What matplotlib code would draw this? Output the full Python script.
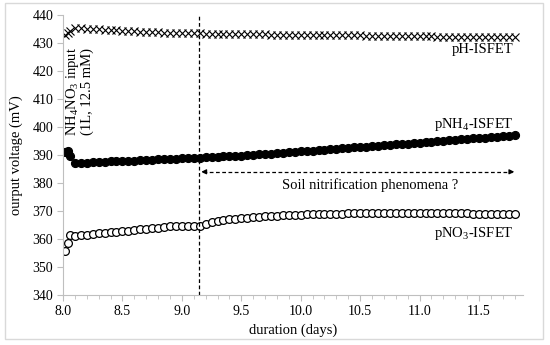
#!/usr/bin/env python3
import numpy as np
import matplotlib
matplotlib.use('Agg')
import matplotlib.pyplot as plt
from matplotlib.patches import Rectangle

plt.rcParams['font.family'] = ['Liberation Serif', 'DejaVu Serif']
plt.rcParams['mathtext.fontset'] = 'custom'
plt.rcParams['mathtext.rm'] = 'Liberation Serif'
plt.rcParams['mathtext.it'] = 'Liberation Serif:italic'

#-----------------------------------------------------------------------------------------
# sampling times (days)
days = [8.02, 8.04, 8.06,
        8.10, 8.15, 8.20, 8.25, 8.30, 8.35, 8.40, 8.45, 8.50, 8.55, 8.60,
        8.65, 8.70, 8.75, 8.80, 8.85, 8.90, 8.95, 9.00, 9.05, 9.10, 9.15,
        9.20, 9.25, 9.30, 9.35, 9.40, 9.45, 9.50, 9.55, 9.60, 9.65, 9.70,
        9.75, 9.80, 9.85, 9.90, 9.95, 10.00, 10.05, 10.10, 10.15, 10.20,
        10.25, 10.30, 10.35, 10.40, 10.45, 10.50, 10.55, 10.60, 10.65,
        10.70, 10.75, 10.80, 10.85, 10.90, 10.95, 11.00, 11.05, 11.10,
        11.15, 11.20, 11.25, 11.30, 11.35, 11.40, 11.45, 11.50, 11.55,
        11.60, 11.65, 11.70, 11.75, 11.80]

# pH-ISFET (mV)
ph_mv = [433.0, 433.5, 434.2,
         435.2, 435.3, 435.1, 435.0, 434.9, 434.8, 434.7, 434.6, 434.4, 434.3, 434.2,
         434.1, 434.0, 433.9, 433.8, 433.7, 433.6, 433.6, 433.5, 433.5, 433.4, 433.4,
         433.3, 433.3, 433.3, 433.2, 433.2, 433.2, 433.2, 433.1, 433.1, 433.1, 433.1,
         433.0, 433.0, 433.0, 433.0, 432.9, 432.9, 432.9, 432.9, 432.8, 432.8,
         432.8, 432.8, 432.7, 432.7, 432.7, 432.7, 432.6, 432.6, 432.6,
         432.6, 432.5, 432.5, 432.5, 432.5, 432.4, 432.4, 432.4, 432.4,
         432.3, 432.3, 432.3, 432.3, 432.2, 432.2, 432.2, 432.2, 432.1,
         432.1, 432.1, 432.0, 432.0, 432.0]

# pNH4-ISFET (mV)
nh4_mv = [391.0, 391.6, 389.8,
          387.3, 387.2, 387.3, 387.4, 387.5, 387.6, 387.7, 387.8, 387.8, 387.9, 388.0,
          388.1, 388.2, 388.3, 388.4, 388.5, 388.6, 388.7, 388.8, 388.9, 389.0, 389.1,
          389.2, 389.3, 389.4, 389.5, 389.6, 389.7, 389.8, 390.0, 390.1, 390.2, 390.4,
          390.5, 390.7, 390.8, 391.0, 391.1, 391.3, 391.4, 391.6, 391.7, 391.9,
          392.0, 392.2, 392.4, 392.5, 392.7, 392.8, 393.0, 393.2, 393.3,
          393.5, 393.6, 393.8, 394.0, 394.1, 394.3, 394.4, 394.6, 394.8,
          394.9, 395.1, 395.3, 395.4, 395.6, 395.7, 395.9, 396.1, 396.2,
          396.4, 396.5, 396.7, 396.9, 397.0]

# pNO3-ISFET (mV)
no3_mv = [355.8, 358.4, 361.6,
          361.2, 361.3, 361.5, 361.8, 362.0, 362.2, 362.4, 362.6, 362.8, 363.0, 363.2,
          363.4, 363.6, 363.9, 364.1, 364.3, 364.5, 364.7, 364.8, 364.8, 364.7, 364.8,
          365.5, 366.0, 366.4, 366.7, 367.0, 367.2, 367.4, 367.6, 367.8, 367.9, 368.1,
          368.2, 368.3, 368.4, 368.5, 368.6, 368.7, 368.8, 368.9, 368.9, 369.0,
          369.0, 369.1, 369.1, 369.2, 369.2, 369.2, 369.3, 369.3, 369.3,
          369.3, 369.3, 369.3, 369.3, 369.3, 369.3, 369.3, 369.3, 369.3,
          369.3, 369.3, 369.2, 369.2, 369.2, 369.2, 369.1, 369.1, 369.1,
          369.0, 369.0, 369.0, 368.9, 368.9]

input_day = 9.14
arrow_end = 11.82
arrow_mv = 384

xticks = [8.0, 8.5, 9.0, 9.5, 10.0, 10.5, 11.0, 11.5]
yticks = [340, 350, 360, 370, 380, 390, 400, 410, 420, 430, 440]

#-----------------------------------------------------------------------------------------
fig = plt.figure(figsize=(5.5, 3.45), dpi=100)
ax = fig.add_axes([63/550, 1-295/345, (523-63)/550, (295-15)/345])

# chart border
fig.patches.append(Rectangle((5/550, 1-339/345), 538/550, 336/345, transform=fig.transFigure,
                             fill=False, edgecolor='#d9d9d9', lw=1.0))

ax.plot(days, ph_mv, ls='none', marker='x', ms=5.2, mew=0.8, color='black')
ax.plot(days, nh4_mv, ls='none', marker='o', ms=5.8, mfc='black', mec='black', mew=0.8)
ax.plot(days, no3_mv, ls='none', marker='o', ms=5.6, mfc='white', mec='black', mew=0.9)

ax.axvline(input_day, color='black', ls=(0, (3, 2)), lw=0.9)
ax.plot([input_day+0.04, arrow_end-0.04], [arrow_mv, arrow_mv], color='black', ls=(0, (3, 2)), lw=0.9)
ax.annotate('', xy=(input_day, arrow_mv), xytext=(input_day+0.08, arrow_mv),
            arrowprops=dict(arrowstyle='-|>', color='black', lw=0.9, mutation_scale=7))
ax.annotate('', xy=(arrow_end, arrow_mv), xytext=(arrow_end-0.08, arrow_mv),
            arrowprops=dict(arrowstyle='-|>', color='black', lw=0.9, mutation_scale=7))

fs = 10.5
ax.text(10.58, 379.2, 'Soil nitrification phenomena ?', ha='center', va='center', fontsize=fs)
ax.text(11.79, 427.6, 'pH-ISFET', ha='right', va='center', fontsize=fs)
ax.text(11.79, 400.8, 'pNH$_4$-ISFET', ha='right', va='center', fontsize=fs)
ax.text(11.79, 362.0, 'pNO$_3$-ISFET', ha='right', va='center', fontsize=fs)
ax.text(8.135, 412.8, 'NH$_4$NO$_3$ input\n(1L, 12.5 mM)', rotation=90, ha='center', va='center',
        multialignment='center', fontsize=fs, linespacing=1.0)

ax.set_xlim(8.0, 11.87)
ax.set_ylim(340, 440)
ax.set_xticks(xticks)
ax.set_xticklabels(['%.1f' % t for t in xticks])
ax.set_xticks(np.arange(8.0, 11.85, 0.1), minor=True)
ax.set_yticks(yticks)
ax.tick_params(axis='both', which='both', direction='out', color='#bfbfbf', labelsize=10,
               labelcolor='black')
ax.tick_params(which='major', length=4, pad=3)
ax.tick_params(which='minor', length=3)
ax.tick_params(axis='y', which='minor', left=False)

for s in ['top', 'right']:
    ax.spines[s].set_visible(False)
for s in ['left', 'bottom']:
    ax.spines[s].set_color('#bfbfbf')
    ax.spines[s].set_linewidth(0.8)

ax.set_xlabel('duration (days)', fontsize=fs, labelpad=4)
ax.set_ylabel('ourput voltage (mV)', fontsize=fs, labelpad=7)

fig.savefig('out.png', dpi=100)
